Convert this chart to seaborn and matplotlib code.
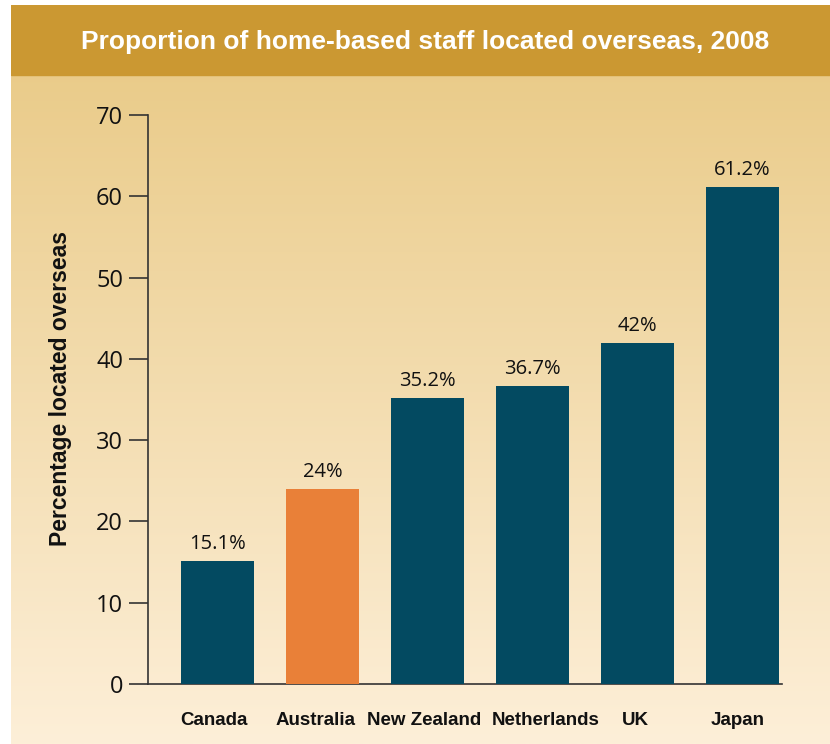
import matplotlib
matplotlib.use("Agg")
import matplotlib.pyplot as plt
import matplotlib.patches as mpatches
import matplotlib.transforms as mtransforms
import numpy as np
import pandas as pd
import seaborn as sns

categories = ["Canada", "Australia", "New Zealand", "Netherlands", "UK", "Japan"]
values = [15.1, 24.0, 35.2, 36.7, 42.0, 61.2]
value_labels = ["15.1%", "24%", "35.2%", "36.7%", "42%", "61.2%"]
yticks = [0, 10, 20, 30, 40, 50, 60, 70]
title = "Proportion of home-based staff located overseas, 2008"
ylabel = "Percentage located overseas"

navy = "#034A61"
orange = "#E98038"
bar_colors = [navy, orange, navy, navy, navy, navy]
# small horizontal nudges (pixels) of category labels, as in the original layout
label_nudge_px = [-4, -7, -3, 13, -2, -5]

sns.set_theme(style="white")
cond = "Liberation Sans"
plain = "Open Sans"

fig = plt.figure(figsize=(8.30, 7.44), dpi=100)
fig.patch.set_facecolor("white")

# background gradient panel
W, H = 830, 744
bg = fig.add_axes([11 / W, 0, 1 - 11 / W, 1 - 5 / H])
bg.set_axis_off()
top_c = np.array([0xE8, 0xC8, 0x82]) / 255
bot_c = np.array([0xFD, 0xEF, 0xD8]) / 255
t = np.linspace(0, 1, 256)[:, None]
grad = top_c[None, :] * (1 - t) + bot_c[None, :] * t
bg.imshow(grad[:, None, :], aspect="auto", extent=[0, 1, 0, 1], origin="upper")
bg.add_patch(mpatches.Rectangle((0, 1 - 70 / 739), 1, 70 / 739, color="#CB9832", transform=bg.transAxes))
bg.set_xlim(0, 1)
bg.set_ylim(0, 1)
fig.text(425 / W, 1 - 42 / H, title, ha="center", va="center", color="white",
         fontsize=19, fontweight="bold", family=[cond, "DejaVu Sans"])

df = pd.DataFrame({"country": categories, "value": values})
ax = fig.add_axes([148 / W, 1 - 684 / H, (782 - 148) / W, (684 - 115) / H])
ax.patch.set_alpha(0)
sns.barplot(data=df, x="country", y="value", hue="country", palette=bar_colors,
            width=0.7, legend=False, ax=ax, saturation=1, zorder=3, linewidth=0, edgecolor="none")
ax.set_ylim(0, 70)
ax.set_xlim(-0.662, 5.376)
ax.set_yticks(yticks)
ax.set_yticklabels([str(v) for v in yticks], fontsize=17, family=plain, color="#111111")
ax.set_xticks(range(len(categories)))
ax.set_xticklabels(categories, fontsize=13.5, fontweight="bold", family=[cond, "DejaVu Sans"], color="#111111")
ax.tick_params(axis="y", length=14, width=1.2, color="#333333", pad=4, left=True)
ax.tick_params(axis="x", length=0, pad=20)
for lab, dx in zip(ax.get_xticklabels(), label_nudge_px):
    lab.set_transform(lab.get_transform() + mtransforms.ScaledTranslation(dx / 100, 0, fig.dpi_scale_trans))
for s in ["top", "right"]:
    ax.spines[s].set_visible(False)
for s in ["left", "bottom"]:
    ax.spines[s].set_color("#333333")
    ax.spines[s].set_linewidth(1.2)
ax.set_xlabel("")
ax.set_ylabel("")
fig.text(61 / W, 1 - 388 / H, ylabel, rotation=90, ha="center", va="center",
         fontsize=16.5, fontweight="bold", family=[cond, "DejaVu Sans"], color="#111111")
for i, (v, lab) in enumerate(zip(values, value_labels)):
    ax.annotate(lab, (i, v), xytext=(0, 5), textcoords="offset points", ha="center", va="bottom",
                fontsize=14.5, family=plain, color="#111111")

fig.savefig("out.png", dpi=100)
